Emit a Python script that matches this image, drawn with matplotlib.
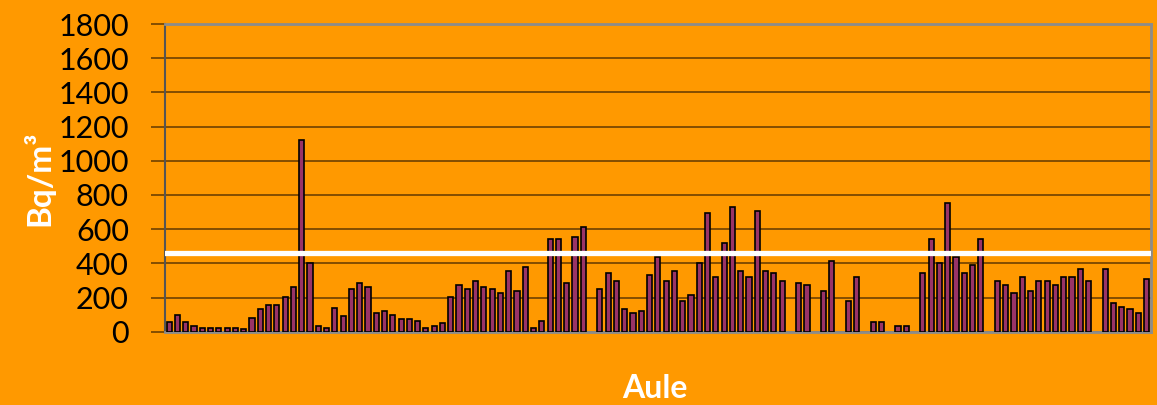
import numpy as np
import matplotlib
matplotlib.use("Agg")
import matplotlib.pyplot as plt

nan = np.nan
# Radon concentration per classroom (Bq/m3); nan = no measurement
values = [59, 96, 59, 35, 24, 24, 24, 24, 24, 14,
          82, 131, 155, 155, 202, 261, 1120, 402, 35, 24,
          141, 94, 247, 282, 259, 108, 120, 96, 73, 73,
          61, 24, 35, 49, 202, 272, 249, 296, 261, 249,
          225, 355, 237, 378, 24, 61, 543, 543, 284, 555,
          613, nan, 249, 343, 296, 131, 108, 120, 331, 435,
          296, 355, 178, 214, 402, 696, 319, 519, 731, 355,
          319, 708, 355, 343, 296, nan, 284, 272, nan, 237,
          414, nan, 178, 319, nan, 59, 59, nan, 35, 35,
          nan, 343, 543, 402, 755, 435, 343, 390, 543, nan,
          296, 272, 225, 319, 237, 296, 296, 272, 319, 319,
          367, 296, nan, 367, 167, 143, 131, 108, 308]
categories = list(range(1, len(values) + 1))
threshold = 460
yticks = [0, 200, 400, 600, 800, 1000, 1200, 1400, 1600, 1800]

ORANGE = "#FF9900"
BAR = "#993366"
GRID = "#7A4800"

W, H = 1157, 405
fig = plt.figure(figsize=(W / 100, H / 100), dpi=100, facecolor=ORANGE)
ax = fig.add_axes([165 / W, 1 - 331.7 / H, 985.7 / W, 307.7 / H])
ax.set_facecolor(ORANGE)

x = np.arange(len(categories))
ax.bar(x, values, width=0.62, color=BAR, edgecolor="black", linewidth=1.2, zorder=3)
ax.axhline(threshold, xmin=0, xmax=0.997, color="white", linewidth=3.8, zorder=4)

ax.set_xlim(-0.5, len(categories) - 0.5)
ax.set_ylim(0, 1800)
ax.set_yticks(yticks)
ax.set_yticklabels([str(t) for t in yticks], fontsize=22, family=["Lato", "DejaVu Sans"],
                   color="black")
ax.tick_params(axis="y", direction="out", length=10, width=1.3, color=GRID, pad=16)
ax.set_xticks([])
ax.yaxis.grid(True, color=GRID, linewidth=1.3, zorder=0)
ax.set_axisbelow(True)

ax.spines["left"].set_color("#555555")
ax.spines["left"].set_linewidth(1.5)
for s in ("bottom", "top", "right"):
    ax.spines[s].set_color("#8C8C8C")
    ax.spines[s].set_linewidth(2)

fig.text(38 / W, 1 - 178 / H, "Bq/m³", rotation=90, ha="center", va="center",
         color="white", fontsize=24, fontweight="bold", family=["Lato", "DejaVu Sans"])
fig.text(655 / W, 1 - 388 / H, "Aule", ha="center", va="center",
         color="white", fontsize=23, fontweight="bold", family=["Lato", "DejaVu Sans"])

fig.savefig("out.png", dpi=100, facecolor=ORANGE)
